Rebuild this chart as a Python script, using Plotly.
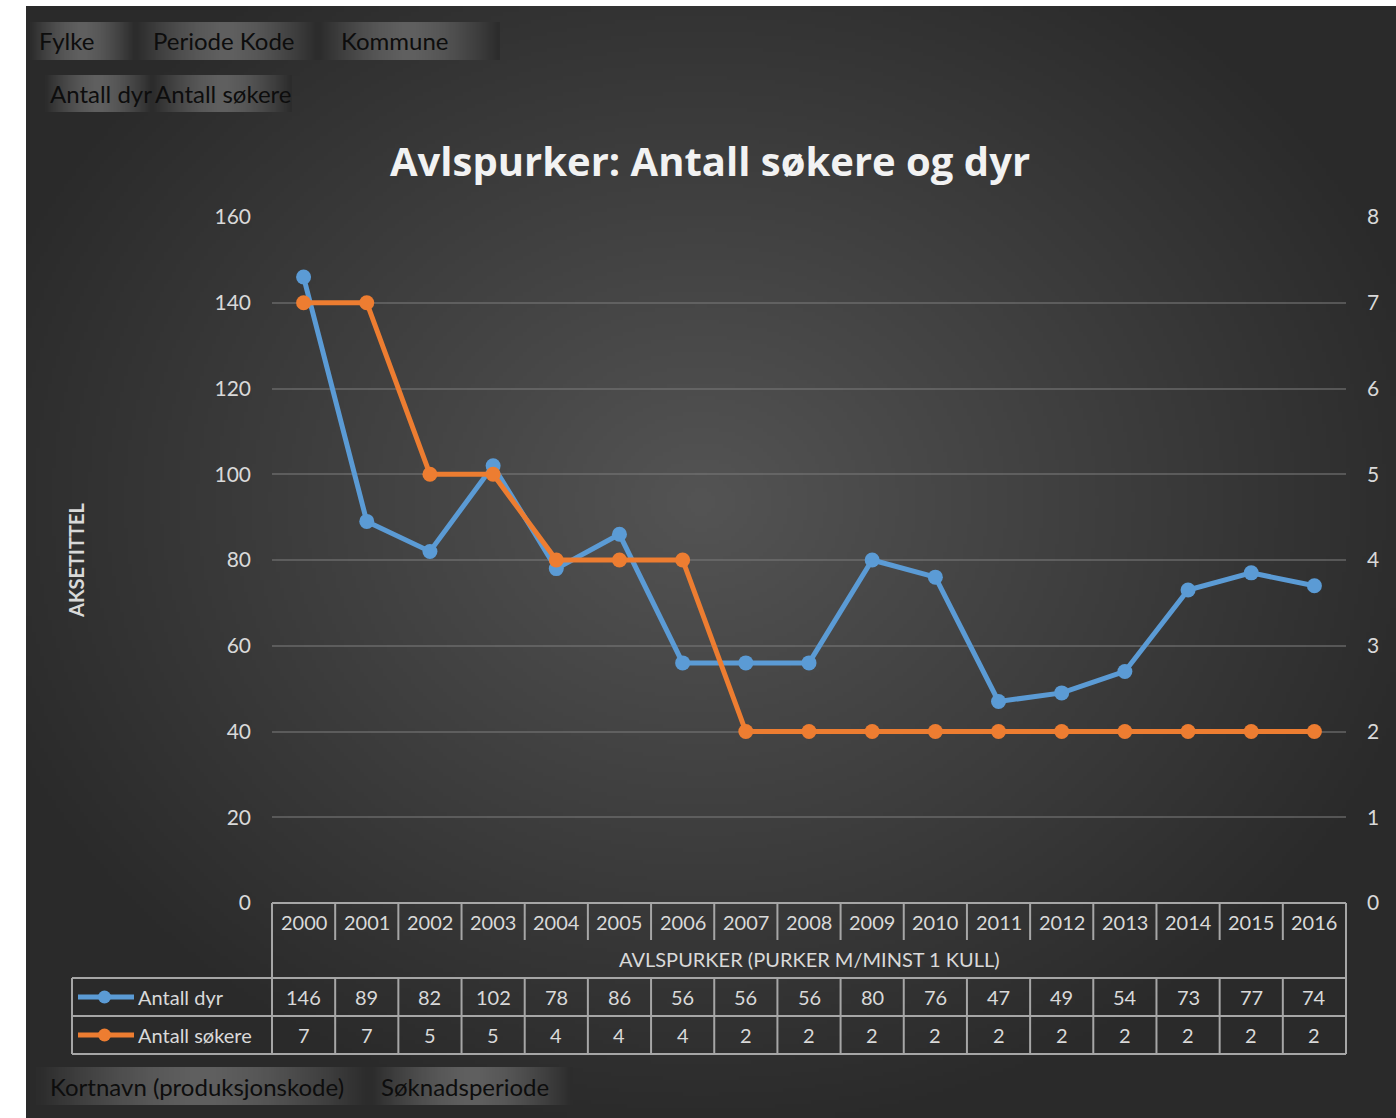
import base64
import struct
import zlib

import numpy as np
import plotly.graph_objects as go

# ------------------------------------------------------------------
# data
# ------------------------------------------------------------------
years = ["2000", "2001", "2002", "2003", "2004", "2005", "2006", "2007", "2008",
         "2009", "2010", "2011", "2012", "2013", "2014", "2015", "2016"]
antall_dyr = [146, 89, 82, 102, 78, 86, 56, 56, 56, 80, 76, 47, 49, 54, 73, 77, 74]
antall_sokere = [7, 7, 5, 5, 4, 4, 4, 2, 2, 2, 2, 2, 2, 2, 2, 2, 2]

series_names = ["Antall dyr", "Antall søkere"]
title_text = "Avlspurker: Antall søkere og dyr"
axis_title = "AKSETITTEL"
category_title = "AVLSPURKER (PURKER M/MINST 1 KULL)"
top_buttons = ["Fylke", "Periode Kode", "Kommune"]
value_buttons = ["Antall dyr", "Antall søkere"]
bottom_buttons = ["Kortnavn (produksjonskode)", "Søknadsperiode"]

W, H = 1396, 1118
BLUE = "#5B9BD5"
ORANGE = "#ED7D31"
TXT = "#D9D9D9"
LINE = "#A6A6A6"
FONT = "Lato"


def px(x):
    return x / W


def py(y):
    return 1 - y / H


def png_uri(arr):
    h, w = arr.shape[:2]
    raw = b"".join(b"\x00" + arr[r].tobytes() for r in range(h))

    def chunk(tag, data):
        c = struct.pack(">I", len(data)) + tag + data
        return c + struct.pack(">I", zlib.crc32(tag + data) & 0xffffffff)

    png = (b"\x89PNG\r\n\x1a\n"
           + chunk(b"IHDR", struct.pack(">IIBBBBB", w, h, 8, 2, 0, 0, 0))
           + chunk(b"IDAT", zlib.compress(raw))
           + chunk(b"IEND", b""))
    return "data:image/png;base64," + base64.b64encode(png).decode()


# radial background (excel style)
gw, gh = 343, 278
gx, gy = np.meshgrid(np.arange(gw) * 4.0, np.arange(gh) * 4.0)
t = np.clip(np.sqrt(((gx - 674) / 760) ** 2 + ((gy - 494) / 640) ** 2), 0, 1)
v = (84 - 42 * t).astype(np.uint8)
bg_img = png_uri(np.dstack([v, v, v]))

# field button gradient
u = np.linspace(0, 1, 64)
bv = (44 + 52 * (1 - np.abs(2 * u - 1) ** 1.6)).astype(np.uint8)
bv = np.tile(bv, (4, 1))
btn_img = png_uri(np.dstack([bv, bv, bv]))

fig = go.Figure()
fig.add_trace(go.Scatter(x=years, y=antall_dyr, name=series_names[0], mode="lines+markers",
                         line=dict(color=BLUE, width=5), marker=dict(size=15, color=BLUE),
                         yaxis="y"))
fig.add_trace(go.Scatter(x=years, y=antall_sokere, name=series_names[1], mode="lines+markers",
                         line=dict(color=ORANGE, width=5), marker=dict(size=15, color=ORANGE),
                         yaxis="y2"))

shapes = []
annotations = []
images = [dict(source=bg_img, xref="paper", yref="paper", x=px(26), y=py(6),
               sizex=px(W - 26), sizey=1 - py(H - 6), xanchor="left", yanchor="top",
               sizing="stretch", layer="below")]


def note(x, y, text, size=20, color=TXT, xanchor="center", xref="paper", **kw):
    annotations.append(dict(x=px(x) if xref == "paper" else x, y=py(y), xref=xref, yref="paper",
                            text=text, showarrow=False, xanchor=xanchor, yanchor="middle",
                            font=dict(size=size, color=color, family=kw.pop("family", FONT)), **kw))


def hline(x0, x1, y):
    shapes.append(dict(type="line", xref="paper", yref="paper", x0=px(x0), x1=px(x1),
                       y0=py(y), y1=py(y), line=dict(color=LINE, width=2)))


def vline(x, y0, y1, xref="paper"):
    xx = px(x) if xref == "paper" else x
    shapes.append(dict(type="line", xref=xref, yref="paper", x0=xx, x1=xx,
                       y0=py(y0), y1=py(y1), line=dict(color=LINE, width=2)))


# data table grid
for yy in [903, 978, 1016, 1054]:
    hline(72 if yy > 903 else 272, 1346, yy)
vline(272, 903, 1054)
vline(1346, 903, 1054)
vline(72, 978, 1054)
for i in range(len(years) - 1):
    vline(i + 0.5, 903, 940, xref="x")
    vline(i + 0.5, 978, 1054, xref="x")

# table cells (category index on the x axis)
for i, yr in enumerate(years):
    note(i, 922, yr, xref="x")
    note(i, 997, str(antall_dyr[i]), xref="x")
    note(i, 1035, str(antall_sokere[i]), xref="x")

note(809, 959, category_title)

# legend keys inside the table
for name, col, yy in [(series_names[0], BLUE, 997), (series_names[1], ORANGE, 1035)]:
    shapes.append(dict(type="line", xref="paper", yref="paper", x0=px(78), x1=px(134),
                       y0=py(yy), y1=py(yy), line=dict(color=col, width=5)))
    shapes.append(dict(type="circle", xref="paper", yref="paper", x0=px(98), x1=px(111),
                       y0=py(yy + 6.5), y1=py(yy - 6.5), fillcolor=col, line=dict(width=0)))
    note(136, yy, name, xanchor="left")

# pivot field buttons
buttons = [
    (top_buttons[0], 30, 135, 22, 60, 37),
    (top_buttons[1], 135, 318, 22, 60, 151),
    (top_buttons[2], 318, 500, 22, 60, 339),
    (value_buttons[0], 45, 152, 75, 112, 48),
    (value_buttons[1], 152, 292, 75, 112, 153),
    (bottom_buttons[0], 36, 370, 1067, 1105, 48),
    (bottom_buttons[1], 370, 573, 1067, 1105, 379),
]
for label, x0, x1, y0, y1, tx in buttons:
    images.append(dict(source=btn_img, xref="paper", yref="paper", x=px(x0), y=py(y0),
                       sizex=px(x1 - x0), sizey=py(y0) - py(y1), xanchor="left", yanchor="top",
                       sizing="stretch", layer="below"))
    note(tx, (y0 + y1) / 2, label, size=24, color="#0D0D0D", xanchor="left")

# title and axis title
note(710, 160, "<b>" + title_text + "</b>", size=40, color="#F2F2F2", family="Open Sans")
note(76, 560, "<b>" + axis_title + "</b>", size=20, textangle=-90)

fig.update_layout(
    width=W, height=H,
    margin=dict(l=0, r=0, t=0, b=0, autoexpand=False),
    paper_bgcolor="white",
    plot_bgcolor="rgba(0,0,0,0)",
    showlegend=False,
    font=dict(family=FONT, color=TXT),
    xaxis=dict(type="category", domain=[px(272), px(1346)], range=[-0.5, len(years) - 0.5],
               showticklabels=False, showgrid=False, zeroline=False, showline=False,
               automargin=False),
    yaxis=dict(domain=[py(903), py(217)], range=[0, 160], dtick=20,
               gridcolor="rgba(120,120,120,0.55)", gridwidth=1.5, zeroline=False,
               tickfont=dict(size=21, color=TXT, family=FONT), ticklabelstandoff=20,
               automargin=False),
    yaxis2=dict(overlaying="y", side="right", range=[0, 8], dtick=1, showgrid=False,
                zeroline=False, tickfont=dict(size=21, color=TXT, family=FONT),
                ticklabelstandoff=20, automargin=False),
    shapes=shapes,
    annotations=annotations,
    images=images,
)

fig.write_html("out.html", config={"displayModeBar": False},
               post_script="document.body.style.margin='0';")
